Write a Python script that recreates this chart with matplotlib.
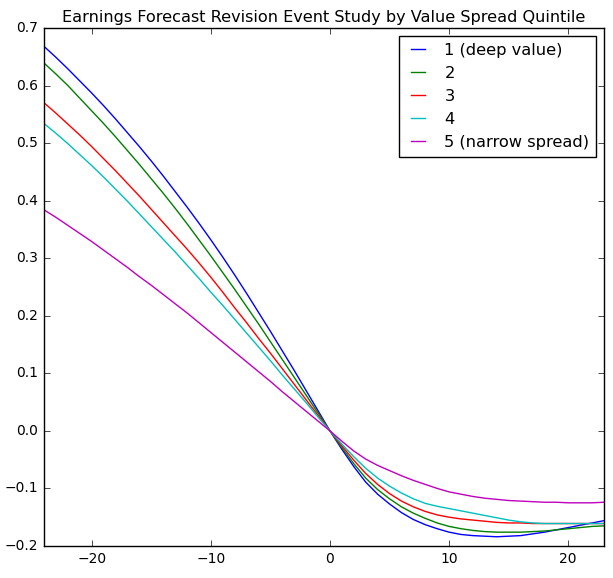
import matplotlib
matplotlib.use("Agg")
import matplotlib.pyplot as plt

plt.style.use("classic")

# Event time (days relative to the revision)
days = list(range(-24, 24))

q1_deep_value = [
    0.668, 0.649, 0.629, 0.608, 0.587, 0.565, 0.542, 0.518, 0.494, 0.469,
    0.443, 0.416, 0.389, 0.361, 0.332, 0.302, 0.271, 0.239, 0.206, 0.173,
    0.139, 0.105, 0.070, 0.035, 0.000,
    -0.032, -0.062, -0.089, -0.110, -0.127, -0.142, -0.154, -0.163, -0.170,
    -0.176, -0.180, -0.182, -0.183, -0.184, -0.183, -0.182, -0.179, -0.176,
    -0.172, -0.168, -0.164, -0.160, -0.156,
]
q2 = [
    0.639, 0.620, 0.600, 0.578, 0.556, 0.534, 0.511, 0.487, 0.463, 0.438,
    0.413, 0.387, 0.360, 0.332, 0.304, 0.275, 0.246, 0.216, 0.186, 0.155,
    0.124, 0.093, 0.062, 0.031, 0.000,
    -0.029, -0.057, -0.082, -0.102, -0.118, -0.132, -0.143, -0.152, -0.160,
    -0.166, -0.170, -0.173, -0.175, -0.176, -0.176, -0.176, -0.175, -0.174,
    -0.172, -0.170, -0.168, -0.166, -0.165,
]
q3 = [
    0.570, 0.552, 0.533, 0.514, 0.494, 0.473, 0.452, 0.430, 0.408, 0.385,
    0.362, 0.339, 0.316, 0.292, 0.267, 0.241, 0.214, 0.188, 0.161, 0.135,
    0.108, 0.081, 0.054, 0.027, 0.000,
    -0.026, -0.051, -0.074, -0.093, -0.109, -0.122, -0.132, -0.140, -0.146,
    -0.150, -0.153, -0.155, -0.157, -0.159, -0.160, -0.160, -0.161, -0.161,
    -0.161, -0.161, -0.161, -0.161, -0.161,
]
q4 = [
    0.534, 0.517, 0.499, 0.480, 0.461, 0.441, 0.420, 0.399, 0.377, 0.355,
    0.333, 0.311, 0.288, 0.265, 0.241, 0.218, 0.194, 0.170, 0.146, 0.122,
    0.097, 0.073, 0.049, 0.024, 0.000,
    -0.023, -0.045, -0.065, -0.082, -0.096, -0.108, -0.118, -0.126, -0.131,
    -0.135, -0.139, -0.143, -0.147, -0.151, -0.155, -0.158, -0.160, -0.161,
    -0.161, -0.161, -0.161, -0.161, -0.161,
]
q5_narrow_spread = [
    0.384, 0.371, 0.357, 0.343, 0.329, 0.314, 0.299, 0.284, 0.268, 0.253,
    0.237, 0.221, 0.205, 0.188, 0.171, 0.154, 0.137, 0.120, 0.103, 0.086,
    0.068, 0.051, 0.034, 0.017, 0.000,
    -0.018, -0.035, -0.049, -0.060, -0.069, -0.078, -0.086, -0.093, -0.100,
    -0.106, -0.110, -0.114, -0.117, -0.119, -0.121, -0.122, -0.123, -0.124,
    -0.124, -0.125, -0.125, -0.125, -0.124,
]

labels = ["1 (deep value)", "2", "3", "4", "5 (narrow spread)"]
series = [q1_deep_value, q2, q3, q4, q5_narrow_spread]
colors = ["b", "g", "r", "c", "m"]

fig = plt.figure(figsize=(6.13, 5.78), dpi=100, facecolor="white")
ax = fig.add_axes([0.0718, 0.0554, 0.9135, 0.8962])

for vals, lab, col in zip(series, labels, colors):
    ax.plot(days, vals, color=col, lw=1.0, label=lab)

ax.set_xlim(-24, 23)
ax.set_ylim(-0.2, 0.7)
ax.set_title("Earnings Forecast Revision Event Study by Value Spread Quintile",
             fontsize=11.6, pad=4)
ax.tick_params(labelsize=10)
ax.legend(loc="upper right", fontsize=11.7, labelspacing=0.5,
          handlelength=1.5, handletextpad=0.87, borderaxespad=0.5)

fig.savefig("out.png", dpi=100, facecolor="white")
